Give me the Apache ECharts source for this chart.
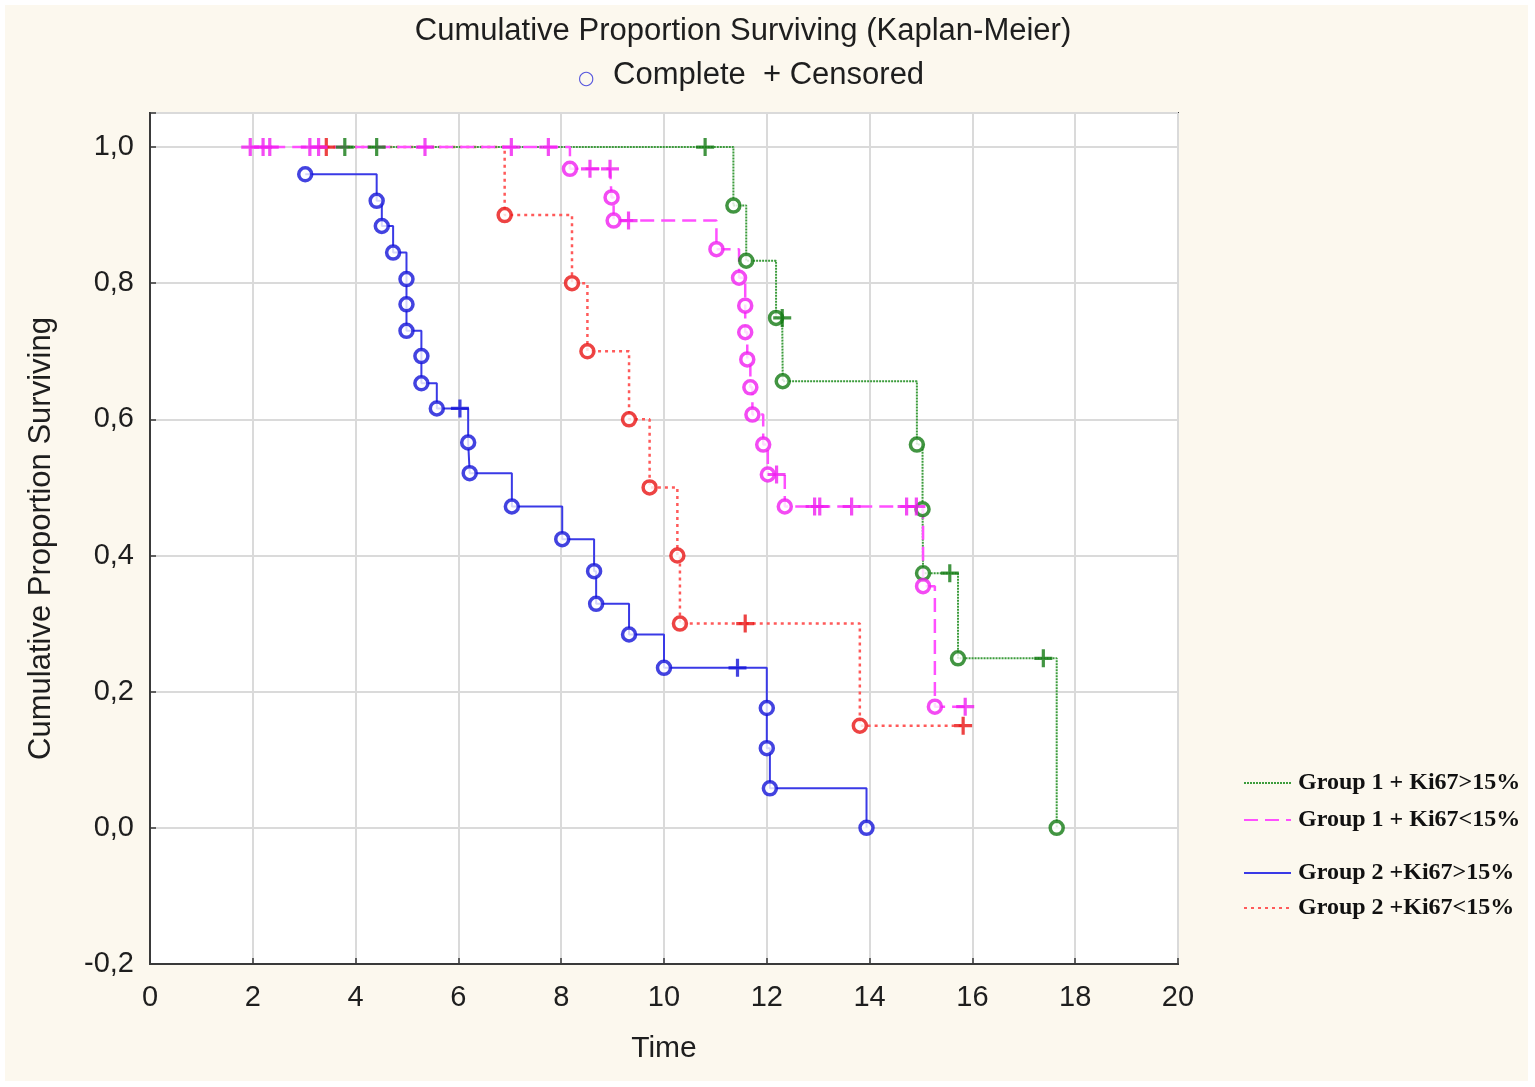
<!DOCTYPE html>
<html>
<head>
<meta charset="utf-8">
<script src="https://cdn.jsdelivr.net/npm/echarts@6/dist/echarts.min.js"></script>
<style>
html,body{margin:0;padding:0;background:#ffffff;}
#chart{width:1535px;height:1087px;}
</style>
</head>
<body>
<div id="chart"></div>
<script>
// ---- data ----
const xTicks = [0, 2, 4, 6, 8, 10, 12, 14, 16, 18, 20];
const yTicks = [-0.2, 0, 0.2, 0.4, 0.6, 0.8, 1.0];
const seriesNames = ['Group 1 + Ki67>15%', 'Group 1 + Ki67<15%', 'Group 2 +Ki67>15%', 'Group 2 +Ki67<15%'];

// Group 1 + Ki67>15% (green)
const g1HiEvents = [[11.35,0.914],[11.6,0.833],[12.18,0.749],[12.31,0.656],[14.92,0.563],[15.03,0.468],[15.04,0.374],[15.72,0.249],[17.64,0.0]];
const g1HiCensored = [[3.79,1.0],[4.41,1.0],[10.8,1.0],[12.3,0.749],[15.56,0.374],[17.38,0.249]];

// Group 1 + Ki67<15% (magenta)
const g1LoEvents = [[8.17,0.968],[8.98,0.926],[9.02,0.892],[11.02,0.85],[11.46,0.808],[11.58,0.767],[11.58,0.728],[11.62,0.688],[11.68,0.647],[11.72,0.607],[11.93,0.563],[12.02,0.519],[12.35,0.472],[15.04,0.355],[15.27,0.178]];
const g1LoCensored = [[1.95,1.0],[2.2,1.0],[2.33,1.0],[3.11,1.0],[3.28,1.0],[5.35,1.0],[7.03,1.0],[7.75,1.0],[8.56,0.968],[8.95,0.968],[9.31,0.892],[12.19,0.519],[12.93,0.472],[13.03,0.472],[13.65,0.472],[14.72,0.472],[14.91,0.472],[15.86,0.178]];

// Group 2 +Ki67>15% (blue)
const g2HiEvents = [[3.02,0.96],[4.41,0.921],[4.51,0.884],[4.73,0.845],[4.99,0.806],[4.99,0.769],[4.99,0.73],[5.28,0.693],[5.28,0.653],[5.58,0.616],[6.19,0.566],[6.22,0.521],[7.04,0.472],[8.02,0.424],[8.64,0.377],[8.68,0.329],[9.32,0.284],[10.0,0.235],[12.0,0.176],[12.0,0.117],[12.06,0.058],[13.94,0.0]];
const g2HiCensored = [[6.03,0.616],[11.43,0.235]];

// Group 2 +Ki67<15% (red)
const g2LoEvents = [[6.9,0.9],[8.21,0.8],[8.51,0.7],[9.32,0.6],[9.72,0.5],[10.26,0.4],[10.31,0.3],[13.81,0.15]];
const g2LoCensored = [[3.43,1.0],[11.58,0.3],[15.82,0.15]];

// ---- build ----
function merged(ev, ce) {
  return ev.concat(ce).slice().sort((a, b) => (a[0] - b[0]) || (b[1] - a[1]));
}
const plusPath = 'path://M-1.6,-9 L1.6,-9 L1.6,-1.6 L9,-1.6 L9,1.6 L1.6,1.6 L1.6,9 L-1.6,9 L-1.6,1.6 L-9,1.6 L-9,-1.6 L-1.6,-1.6 Z';

const groups = [
  {name: seriesNames[2], ev: g2HiEvents, ce: g2HiCensored, line: '#3a3ae6', mark: '#1414d8', type: 'solid', width: 2},
  {name: seriesNames[3], ev: g2LoEvents, ce: g2LoCensored, line: '#ff5a5a', mark: '#e81414', type: [3, 4], width: 2.5},
  {name: seriesNames[0], ev: g1HiEvents, ce: g1HiCensored, line: '#3c9c3c', mark: '#137a13', type: [2, 1], width: 2},
  {name: seriesNames[1], ev: g1LoEvents, ce: g1LoCensored, line: '#ff50ff', mark: '#f01ef0', type: [14, 7], width: 2.5}
];

const series = [];
groups.forEach(g => {
  series.push({
    name: g.name, type: 'line', step: 'end', symbol: 'none', z: 2,
    data: merged(g.ev, g.ce),
    lineStyle: {color: g.line, width: g.width, type: g.type},
    itemStyle: {color: g.line},
    silent: true, animation: false
  });
});
groups.forEach(g => {
  series.push({
    name: g.name + ' complete', type: 'scatter', symbol: 'circle', symbolSize: 13, z: 4,
    data: g.ev,
    itemStyle: {color: '#ffffff', borderColor: g.mark, borderWidth: 3.5},
    animation: false
  });
  series.push({
    name: g.name + ' censored', type: 'scatter', symbol: plusPath, symbolSize: 18, z: 5,
    data: g.ce,
    itemStyle: {color: g.mark},
    animation: false
  });
});

const fmtY = v => {
  if (Math.abs(v * 5 - Math.round(v * 5)) > 1e-6) return '';
  return v.toFixed(1).replace('.', ',');
};

const legendText = {fontFamily: 'Liberation Serif', fontWeight: 'bold', fontSize: 24, color: '#111', padding: [0, 0, 0, 2], lineHeight: 24};

const chart = echarts.init(document.getElementById('chart'), null, {renderer: 'canvas'});
chart.setOption({
  backgroundColor: '#ffffff',
  animation: false,
  graphic: [{
    type: 'rect', z: -10, silent: true,
    shape: {x: 5, y: 5, width: 1523, height: 1076},
    style: {fill: '#fcf8ee'}
  }],
  title: [{
    text: 'Cumulative Proportion Surviving (Kaplan-Meier)',
    left: 738, top: 11, textAlign: 'center',
    textStyle: {fontFamily: 'Liberation Sans', fontSize: 31, fontWeight: 'normal', color: '#1e1e1e'}
  }, {
    text: '{c|○} Complete  + Censored',
    left: 746, top: 55, textAlign: 'center',
    textStyle: {
      fontFamily: 'Liberation Sans', fontSize: 31, fontWeight: 'normal', color: '#1e1e1e',
      rich: {c: {fontFamily: 'DejaVu Sans', fontSize: 19, color: '#5555dd', padding: [7, 10, 0, 0]}}
    }
  }],
  legend: [{
    data: [seriesNames[0], seriesNames[1]],
    orient: 'vertical', left: 1238, top: 766, itemGap: 13,
    itemWidth: 47, itemHeight: 14,
    itemStyle: {opacity: 0},
    textStyle: legendText,
    selectedMode: false
  }, {
    data: [seriesNames[2], seriesNames[3]],
    orient: 'vertical', left: 1238, top: 856, itemGap: 11,
    itemWidth: 47, itemHeight: 14,
    itemStyle: {opacity: 0},
    textStyle: legendText,
    selectedMode: false
  }],
  grid: {
    left: 150, top: 113, width: 1028, height: 851,
    show: true, backgroundColor: '#ffffff', borderColor: '#3a3a3a', borderWidth: 2
  },
  xAxis: {
    type: 'value', min: xTicks[0], max: xTicks[xTicks.length - 1], interval: 2,
    name: 'Time', nameLocation: 'middle', nameGap: 70,
    nameTextStyle: {fontFamily: 'Liberation Sans', fontSize: 30, color: '#1e1e1e'},
    axisLine: {show: true, onZero: false, lineStyle: {color: '#3a3a3a', width: 2}},
    axisTick: {show: true, inside: true, length: 6, lineStyle: {color: '#3a3a3a', width: 1.5}},
    axisLabel: {fontFamily: 'Liberation Sans', fontSize: 29, color: '#1e1e1e', margin: 19},
    splitLine: {show: true, lineStyle: {color: '#dadada', width: 2}}
  },
  yAxis: {
    type: 'value', min: yTicks[0], max: 1.05, interval: 0.2,
    name: 'Cumulative Proportion Surviving', nameLocation: 'middle', nameGap: 93, nameRotate: 90,
    nameTextStyle: {fontFamily: 'Liberation Sans', fontSize: 31, color: '#1e1e1e'},
    axisLine: {show: true, onZero: false, lineStyle: {color: '#3a3a3a', width: 2}},
    axisTick: {show: true, inside: true, length: 6, lineStyle: {color: '#3a3a3a', width: 1.5}},
    axisLabel: {fontFamily: 'Liberation Sans', fontSize: 29, color: '#1e1e1e', margin: 16, formatter: fmtY},
    splitLine: {show: true, lineStyle: {color: '#dadada', width: 2}}
  },
  series: series
});
</script>
</body>
</html>
